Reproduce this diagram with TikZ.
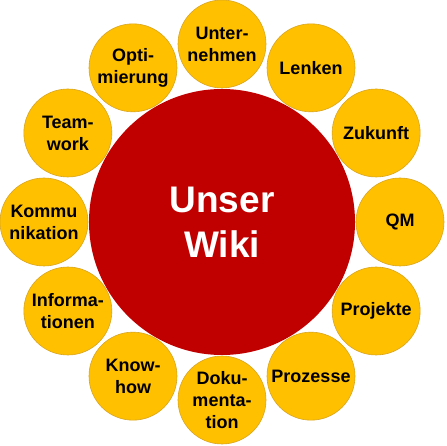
\documentclass[tikz,border=0pt]{standalone}
\usepackage{fontspec}
\setmainfont{Liberation Sans}
\usepackage{xcolor}
\usetikzlibrary{positioning, calc}
\definecolor{wikired}{HTML}{C00000}
\definecolor{topicgold}{HTML}{FFC000}
\definecolor{topicedge}{HTML}{D9A521}
\tikzset{
  hub/.style={circle, fill=wikired, minimum size=266pt, inner sep=0pt,
              align=center, text=white, font=\fontsize{37}{45}\selectfont\bfseries},
  topic/.style={circle, draw=topicedge, fill=topicgold, line width=0.6pt,
                minimum size=88pt, inner sep=0pt, align=center,
                font=\fontsize{18}{22}\selectfont\bfseries},
}

\begin{document}
\begin{tikzpicture}[x=1pt, y=1pt]
  \useasboundingbox (0,0) rectangle (446,446);
  % centre circle
  \node[hub] (wiki) at (222,224) {Unser\\Wiki};

  % 12 topics, every 30 degrees starting at the top
  \foreach \ang/\nm/\txt in {
      90/unternehmen/{Unter-\\nehmen},
      60/lenken/{Lenken},
      30/zukunft/{Zukunft},
       0/qm/{QM},
     -30/projekte/{Projekte},
     -60/prozesse/{Prozesse},
     -90/doku/{Doku-\\menta-\\tion},
    -120/knowhow/{Know-\\how},
    -150/info/{Informa-\\tionen},
     180/kommu/{Kommu\\nikation},
     150/team/{Team-\\work},
     120/opti/{Opti-\\mierung}}
    \node[topic] (\nm) at ($(wiki.center)+(\ang:178)$) {\txt};
\end{tikzpicture}
\end{document}
